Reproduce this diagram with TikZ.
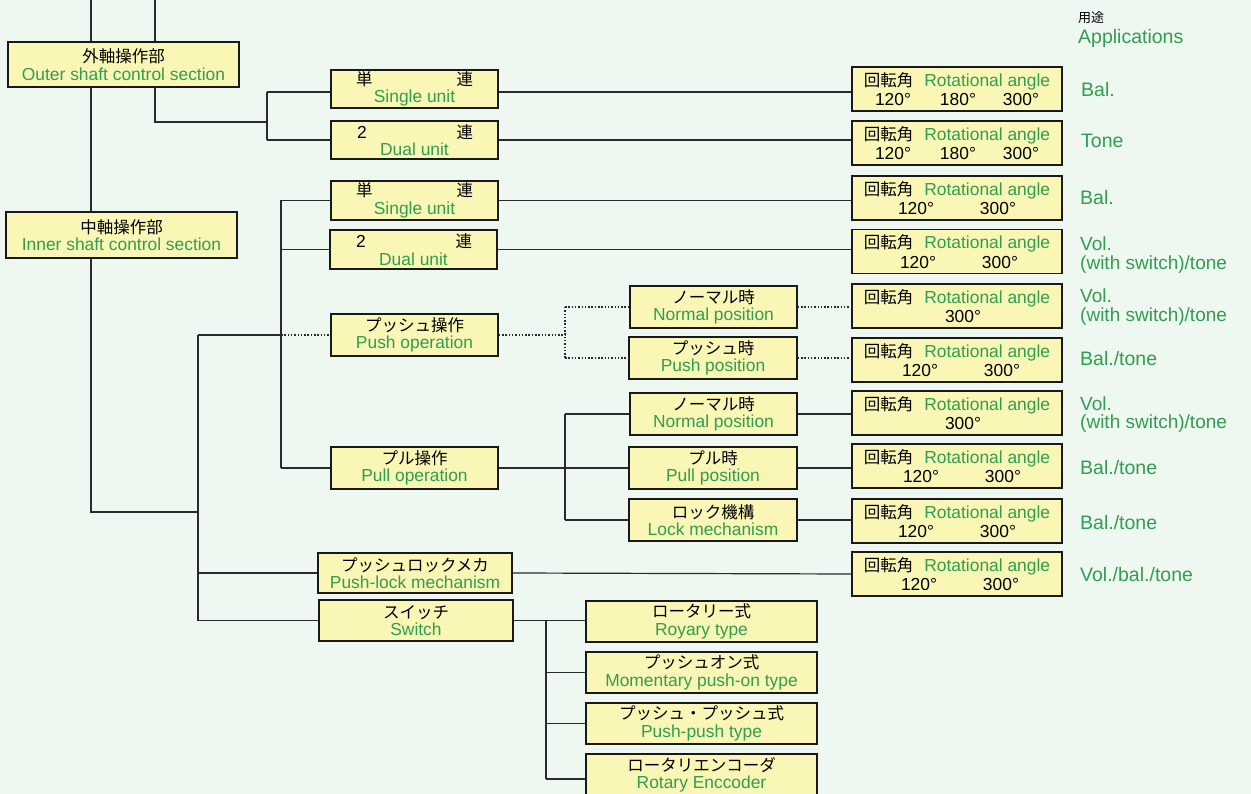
\documentclass[tikz,border=0pt]{standalone}
\usepackage{fontspec}
\setmainfont{Liberation Sans}
\newfontfamily\jpfam{Noto Sans CJK JP}
\newcommand{\jpf}{\jpfam\fontsize{16.5}{17.5}\selectfont}
\definecolor{bgc}{HTML}{EEF7F0}
\definecolor{boxc}{HTML}{FAF6B6}
\definecolor{grn}{HTML}{2F9E4F}
\definecolor{linec}{HTML}{2A2A2A}
\newcommand{\eng}[1]{{\color{grn}#1}}
\newcommand{\rotl}{{\jpf 回転角}\hspace{11pt}\eng{Rotational angle}}
\begin{document}
\begin{tikzpicture}[x=1pt,y=-1pt,
  bx/.style={draw=black!90, line width=1.4pt, fill=boxc, inner sep=0pt, align=center,
     font=\fontsize{17.4}{17.5}\selectfont},
  ab/.style={bx, minimum width=210pt, minimum height=44pt},
  conn/.style={draw=linec, line width=1.2pt},
  dotc/.style={draw=linec, line width=1.5pt, dash pattern=on 1.5pt off 1.8pt},
  app/.style={anchor=base west, inner sep=0pt, text=grn, font=\fontsize{19.5}{20}\selectfont},
  apptwo/.style={anchor=north west, inner sep=0pt, text=grn, align=left, font=\fontsize{19}{18.5}\selectfont}]
\useasboundingbox[fill=bgc] (0,0) rectangle (1251,794);

% left column
\node[bx, minimum width=231pt, minimum height=45pt] (outer) at (123.5,64.5) {{\jpf 外軸操作部}\\ \eng{Outer shaft control section}};
\node[bx, minimum width=231pt, minimum height=46pt] (inner) at (121.5,235) {{\jpf 中軸操作部}\\ \eng{Inner shaft control section}};

% second column
\node[bx, minimum width=167pt, minimum height=38pt] (su1) at (414.5,89) {\makebox[117pt]{{\jpf 単}\hfill{\jpf 連}}\\ \eng{Single unit}};
\node[bx, minimum width=167pt, minimum height=38pt] (du1) at (414.5,140) {\makebox[117pt]{\hspace{1pt}2\hfill{\jpf 連}}\\ \eng{Dual unit}};
\node[bx, minimum width=167pt, minimum height=39pt] (su2) at (414.5,200.5) {\makebox[117pt]{{\jpf 単}\hfill{\jpf 連}}\\ \eng{Single unit}};
\node[bx, minimum width=167pt, minimum height=39pt] (du2) at (413.5,249.5) {\makebox[117pt]{\hspace{1pt}2\hfill{\jpf 連}}\\ \eng{Dual unit}};
\node[bx, minimum width=167pt, minimum height=42pt] (push) at (414.5,335) {{\jpf プッシュ操作}\\ \eng{Push operation}};
\node[bx, minimum width=167pt, minimum height=42pt] (pull) at (414.5,468) {{\jpf プル操作}\\ \eng{Pull operation}};
\node[bx, minimum width=194pt, minimum height=40pt] (pushlock) at (415,573) {{\jpf プッシュロックメカ}\\ \eng{Push-lock mechanism}};
\node[bx, minimum width=194pt, minimum height=41pt] (switch) at (416,620.5) {{\jpf スイッチ}\\ \eng{Switch}};

% third column
\node[bx, minimum width=167pt, minimum height=42pt] (np1) at (713.5,307) {{\jpf ノーマル時}\\ \eng{Normal position}};
\node[bx, minimum width=168pt, minimum height=42pt] (pp) at (713,358) {{\jpf プッシュ時}\\ \eng{Push position}};
\node[bx, minimum width=167pt, minimum height=42pt] (np2) at (713.5,414) {{\jpf ノーマル時}\\ \eng{Normal position}};
\node[bx, minimum width=168pt, minimum height=42pt] (pullp) at (713,468) {{\jpf プル時}\\ \eng{Pull position}};
\node[bx, minimum width=168pt, minimum height=42pt] (lock) at (713,520) {{\jpf ロック機構}\\ \eng{Lock mechanism}};
\node[bx, minimum width=231pt, minimum height=41pt] (rot) at (701.5,621.5) {{\jpf ロータリー式}\\ \eng{Royary type}};
\node[bx, minimum width=231pt, minimum height=41pt] (mom) at (701.5,672.5) {{\jpf プッシュオン式}\\ \eng{Momentary push-on type}};
\node[bx, minimum width=231pt, minimum height=41pt] (ppt) at (701.5,723.5) {{\jpf プッシュ・プッシュ式}\\ \eng{Push-push type}};
\node[bx, minimum width=231pt, minimum height=50pt, text depth=12pt] (enc) at (701.5,779) {{\jpf ロータリエンコーダ}\\ \eng{Rotary Enccoder}};

% angle boxes
\node[ab] (a1) at (957,89) {\rotl\\[2pt] 120°\hspace{29pt}180°\hspace{27pt}300°};
\node[ab] (a2) at (957,143) {\rotl\\[2pt] 120°\hspace{29pt}180°\hspace{27pt}300°};
\node[ab] (a3) at (957,198) {\rotl\\[2pt] 120°\hspace{46pt}300°};
\node[ab] (a4) at (957,251.5) {\rotl\\[2pt] \hspace*{4pt}120°\hspace{46pt}300°};
\node[ab] (a5) at (957,306) {\rotl\\[2pt] \hspace*{12pt}300°};
\node[ab] (a6) at (957,360) {\rotl\\[2pt] \hspace*{8pt}120°\hspace{46pt}300°};
\node[ab] (a7) at (957,413) {\rotl\\[2pt] \hspace*{12pt}300°};
\node[ab] (a8) at (957,466) {\rotl\\[2pt] \hspace*{10pt}120°\hspace{46pt}300°};
\node[ab] (a9) at (957,521) {\rotl\\[2pt] 120°\hspace{46pt}300°};
\node[ab] (a10) at (957,574) {\rotl\\[2pt] \hspace*{6pt}120°\hspace{46pt}300°};

% applications
\node[anchor=base west, inner sep=0pt, font=\jpfam\fontsize{13}{14}\selectfont] (uh) at (1078,23) {用途};
\node[app] (ue) at (1078,44) {Applications};
\node[app] (p1) at (1081,97) {Bal.};
\node[app] (p2) at (1081,148) {Tone};
\node[app] (p3) at (1080,205) {Bal.};
\node[apptwo] (p4) at (1080,237) {Vol.\\(with switch)/tone};
\node[apptwo] (p5) at (1080,289) {Vol.\\(with switch)/tone};
\node[app] (p6) at (1080,366) {Bal./tone};
\node[apptwo] (p7) at (1080,397) {Vol.\\[-1pt](with switch)/tone};
\node[app] (p8) at (1080,474) {Bal./tone};
\node[app] (p9) at (1080,529) {Bal./tone};
\node[app] (p10) at (1080,581) {Vol./bal./tone};

% connector reference coordinates
\coordinate (t1) at (91,0);
\coordinate (t2) at (155,0);
\coordinate (b1) at (267,122);
\coordinate (c1) at (198,512);
\coordinate (b2) at (281,0);
\coordinate (b3) at (565,0);
\coordinate (b4) at (546,0);

% outer shaft
\draw[conn] (t1) -- (t1 |- outer.north);
\draw[conn] (t2) -- (t2 |- outer.north);
\draw[conn] (outer.south -| t1) -- (inner.north -| t1);
\draw[conn] (outer.south -| t2) |- (b1);
\draw[conn] ([yshift=-3pt]su1.west -| b1) -- (du1.west -| b1);
\draw[conn] ([yshift=-3pt]su1.west -| b1) -- ([yshift=-3pt]su1.west);
\draw[conn] (du1.west -| b1) -- (du1.west);
\draw[conn] ([yshift=-3pt]su1.east) -- ([yshift=-3pt]su1.east -| a1.west);
\draw[conn] (du1.east) -- (du1.east -| a2.west);

% inner shaft
\draw[conn] (inner.south -| t1) |- (c1);
\draw[conn] (push.west -| c1) -- (switch.west -| c1);
\draw[conn] (push.west -| c1) -- (push.west -| b2);
\draw[conn] (su2.west -| b2) -- (pull.west -| b2);
\draw[conn] (su2.west -| b2) -- (su2.west);
\draw[conn] (du2.west -| b2) -- (du2.west);
\draw[dotc] (push.west -| b2) -- (push.west);
\draw[conn] (pull.west -| b2) -- (pull.west);
\draw[conn] (pushlock.west -| c1) -- (pushlock.west);
\draw[conn] (switch.west -| c1) -- (switch.west);
\draw[conn] (su2.east) -- (su2.east -| a3.west);
\draw[conn] (du2.east) -- (du2.east -| a4.west);

% push operation
\draw[dotc] (push.east) -- (push.east -| b3);
\draw[dotc] (np1.west -| b3) -- (pp.west -| b3);
\draw[dotc] (np1.west -| b3) -- (np1.west);
\draw[dotc] (pp.west -| b3) -- (pp.west);
\draw[dotc] (np1.east) -- (np1.east -| a5.west);
\draw[dotc] (pp.east) -- (pp.east -| a6.west);

% pull operation
\draw[conn, line width=1.6pt] (pull.east) -- (pull.east -| pullp.west);
\draw[conn] (np2.west -| b3) -- (lock.west -| b3);
\draw[conn] (np2.west -| b3) -- (np2.west);
\draw[conn] (lock.west -| b3) -- (lock.west);
\draw[conn] (np2.east) -- (np2.east -| a7.west);
\draw[conn, line width=1.6pt] (pullp.east) -- (pullp.east -| a8.west);
\draw[conn] (lock.east) -- (lock.east -| a9.west);

% push-lock and switch
\draw[conn] (pushlock.east) -- (a10.west);
\draw[conn] (switch.east) -- (switch.east -| rot.west);
\draw[conn] (switch.east -| b4) -- (enc.west -| b4);
\draw[conn] (mom.west -| b4) -- (mom.west);
\draw[conn] (ppt.west -| b4) -- (ppt.west);
\draw[conn] (enc.west -| b4) -- (enc.west);
\end{tikzpicture}
\end{document}
